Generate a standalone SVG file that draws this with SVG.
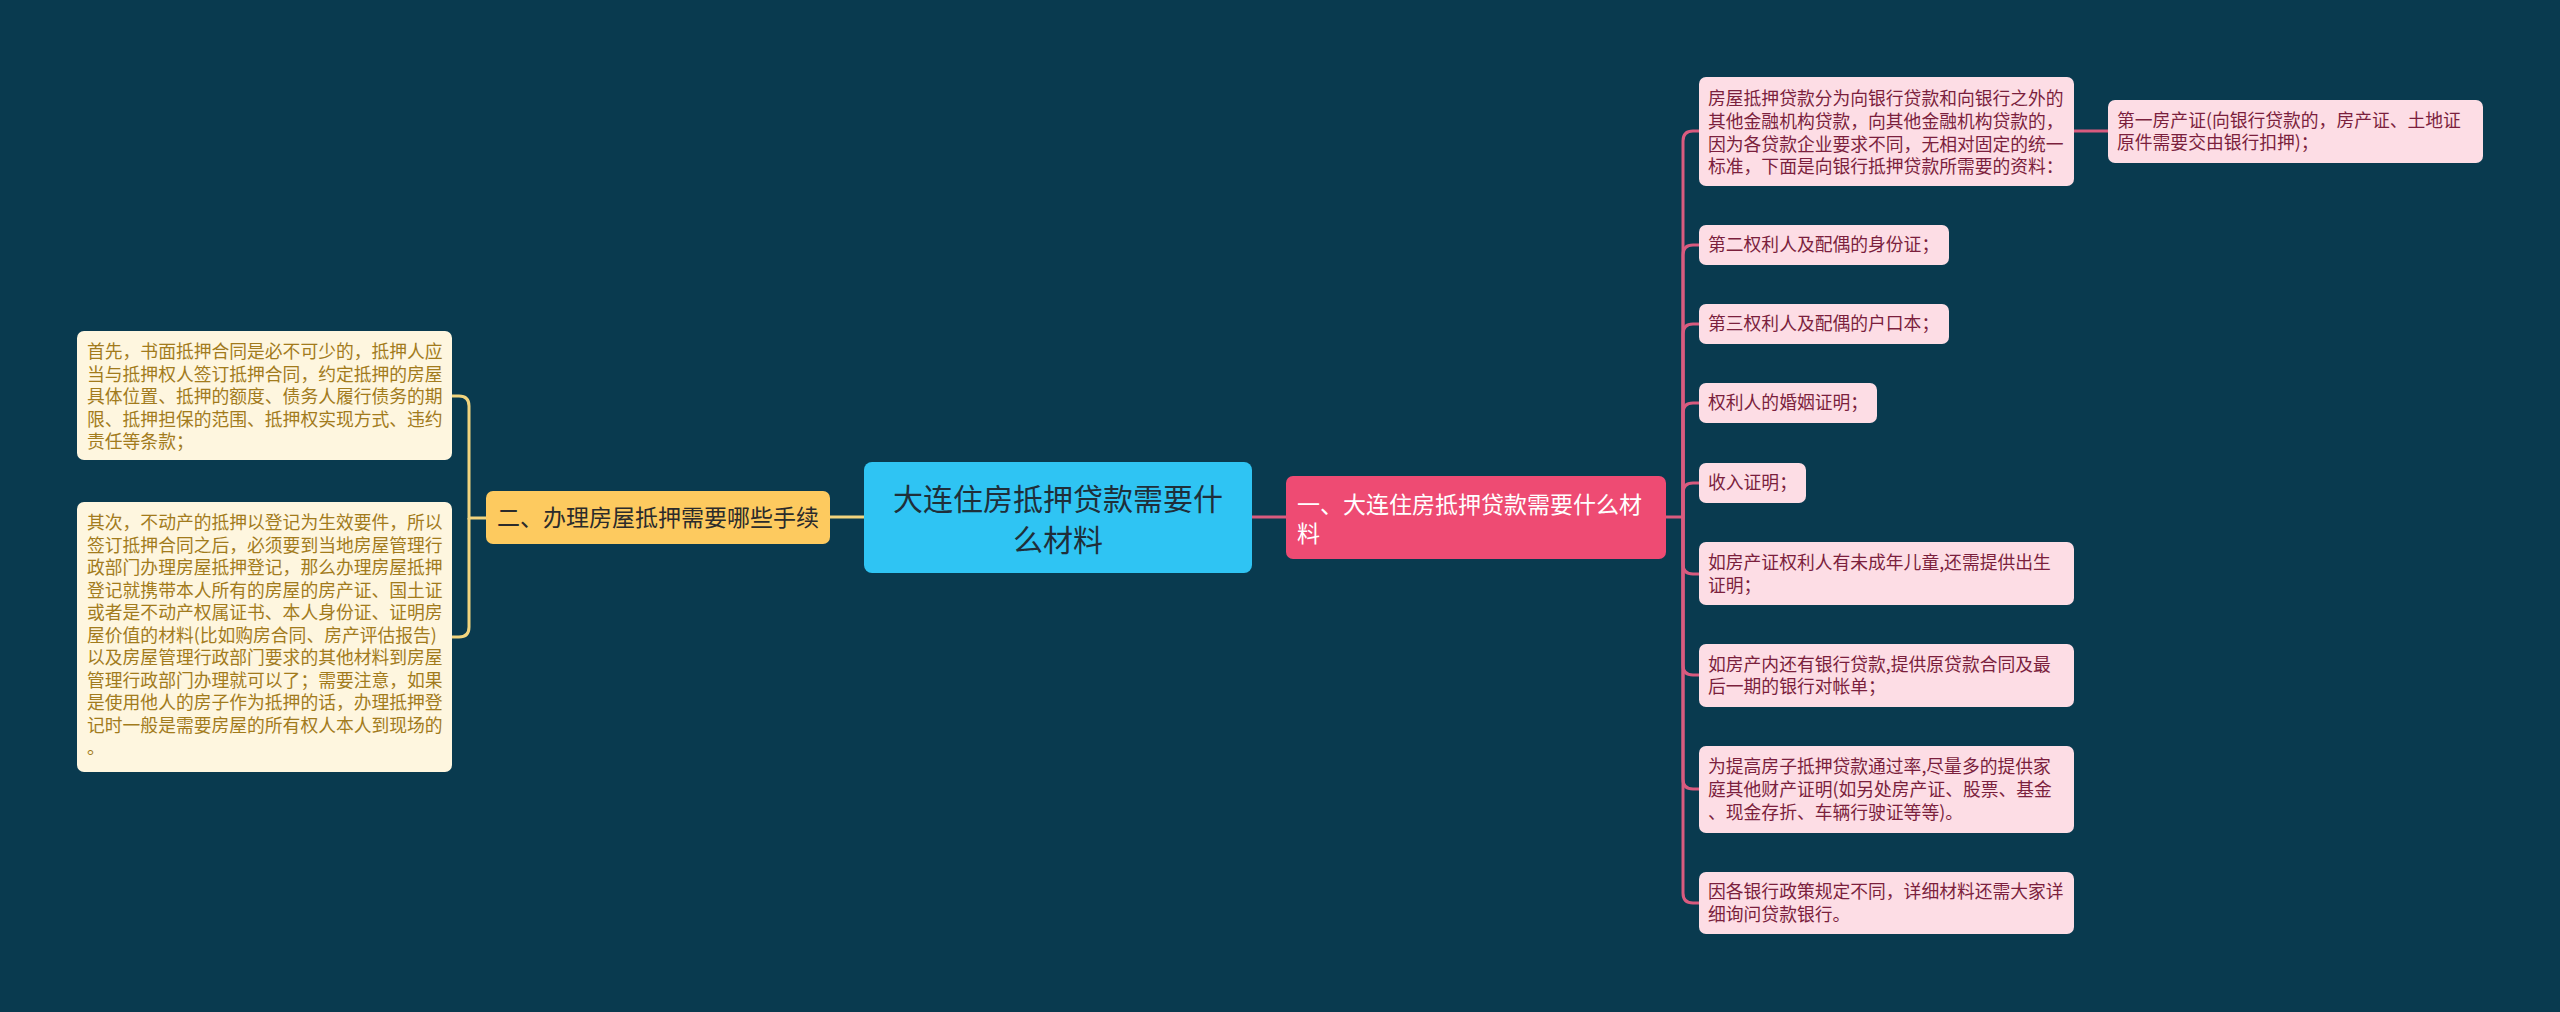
<svg xmlns="http://www.w3.org/2000/svg" width="2560" height="1012" viewBox="0 0 2560 1012">
<style>
text{font-family:"Noto Sans CJK SC","Noto Sans",sans-serif;}
.leaf rect{fill:#fddde5;}
.leaf text{fill:#7b1f3d;font-size:17.8px;}
.cream rect{fill:#fef6df;}
.cream text{fill:#a27b1c;font-size:17.8px;}
.pk{fill:none;stroke:#d95b7f;stroke-width:3;}
.yl{fill:none;stroke:#f2d47e;stroke-width:3;}
</style>
<rect width="2560" height="1012" fill="#093a4f"/>
<g id="connectors">
<path class="yl" d="M864 517H830"/>
<path class="yl" d="M486 518H469V406Q469 396 459 396H452"/>
<path class="yl" d="M469 518V627Q469 637 459 637H452"/>
<path class="pk" d="M1252 517H1286"/>
<path class="pk" d="M1666 517H1683V141Q1683 131 1693 131H1699"/>
<path class="pk" d="M1683 517V255Q1683 245 1693 245H1699"/>
<path class="pk" d="M1683 517V334Q1683 324 1693 324H1699"/>
<path class="pk" d="M1683 517V413Q1683 403 1693 403H1699"/>
<path class="pk" d="M1683 517V493Q1683 483 1693 483H1699"/>
<path class="pk" d="M1683 517V564Q1683 574 1693 574H1699"/>
<path class="pk" d="M1683 517V665Q1683 675 1693 675H1699"/>
<path class="pk" d="M1683 517V779Q1683 789 1693 789H1699"/>
<path class="pk" d="M1683 517V893Q1683 903 1693 903H1699"/>
<path class="pk" d="M2074 131H2108"/>
</g>
<g id="center">
<rect x="864" y="462" width="388" height="111" rx="8" fill="#2fc4f3"/>
<text x="1058" y="509.8" font-size="30" fill="#1f2f3a" text-anchor="middle">大连住房抵押贷款需要什<tspan x="1058" dy="41">么材料</tspan></text>
</g>
<g id="branch2">
<rect x="486" y="491" width="344" height="53" rx="7" fill="#fdca5f"/>
<text x="497" y="526.3" font-size="23" fill="#2b2b2b">二、办理房屋抵押需要哪些手续</text>
</g>
<g id="left1" class="cream">
<rect x="77" y="331" width="375" height="129" rx="7"/>
<text x="87" y="358.4">首先，书面抵押合同是必不可少的，抵押人应<tspan x="87" dy="22.5">当与抵押权人签订抵押合同，约定抵押的房屋</tspan><tspan x="87" dy="22.5">具体位置、抵押的额度、债务人履行债务的期</tspan><tspan x="87" dy="22.5">限、抵押担保的范围、抵押权实现方式、违约</tspan><tspan x="87" dy="22.5">责任等条款；</tspan></text>
</g>
<g id="left2" class="cream">
<rect x="77" y="502" width="375" height="270" rx="7"/>
<text x="87" y="529.4">其次，不动产的抵押以登记为生效要件，所以<tspan x="87" dy="22.5">签订抵押合同之后，必须要到当地房屋管理行</tspan><tspan x="87" dy="22.5">政部门办理房屋抵押登记，那么办理房屋抵押</tspan><tspan x="87" dy="22.5">登记就携带本人所有的房屋的房产证、国土证</tspan><tspan x="87" dy="22.5">或者是不动产权属证书、本人身份证、证明房</tspan><tspan x="87" dy="22.5">屋价值的材料(比如购房合同、房产评估报告)</tspan><tspan x="87" dy="22.5">以及房屋管理行政部门要求的其他材料到房屋</tspan><tspan x="87" dy="22.5">管理行政部门办理就可以了；需要注意，如果</tspan><tspan x="87" dy="22.5">是使用他人的房子作为抵押的话，办理抵押登</tspan><tspan x="87" dy="22.5">记时一般是需要房屋的所有权人本人到现场的</tspan><tspan x="87" dy="22.5">。</tspan></text>
</g>
<g id="branch1">
<rect x="1286" y="476" width="380" height="83" rx="7" fill="#ee4b73"/>
<text x="1297" y="512.8" font-size="23" fill="#ffffff">一、大连住房抵押贷款需要什么材<tspan x="1297" dy="29">料</tspan></text>
</g>
<g id="leaf1" class="leaf">
<rect x="1699" y="77" width="375" height="109" rx="7"/>
<text x="1708" y="105.4">房屋抵押贷款分为向银行贷款和向银行之外的<tspan x="1708" dy="22.6">其他金融机构贷款，向其他金融机构贷款的，</tspan><tspan x="1708" dy="22.6">因为各贷款企业要求不同，无相对固定的统一</tspan><tspan x="1708" dy="22.6">标准，下面是向银行抵押贷款所需要的资料：</tspan></text>
</g>
<g id="leaf1a" class="leaf">
<rect x="2108" y="100" width="375" height="63" rx="7"/>
<text x="2117" y="126.6">第一房产证(向银行贷款的，房产证、土地证<tspan x="2117" dy="22.6">原件需要交由银行扣押)；</tspan></text>
</g>
<g id="leaf2" class="leaf">
<rect x="1699" y="225" width="250" height="40" rx="7"/>
<text x="1708" y="251.4">第二权利人及配偶的身份证；</text>
</g>
<g id="leaf3" class="leaf">
<rect x="1699" y="304" width="250" height="40" rx="7"/>
<text x="1708" y="330.4">第三权利人及配偶的户口本；</text>
</g>
<g id="leaf4" class="leaf">
<rect x="1699" y="383" width="178" height="40" rx="7"/>
<text x="1708" y="409.4">权利人的婚姻证明；</text>
</g>
<g id="leaf5" class="leaf">
<rect x="1699" y="463" width="107" height="40" rx="7"/>
<text x="1708" y="489.4">收入证明；</text>
</g>
<g id="leaf6" class="leaf">
<rect x="1699" y="542" width="375" height="63" rx="7"/>
<text x="1708" y="568.9">如房产证权利人有未成年儿童,还需提供出生<tspan x="1708" dy="22.6">证明；</tspan></text>
</g>
<g id="leaf7" class="leaf">
<rect x="1699" y="644" width="375" height="63" rx="7"/>
<text x="1708" y="670.6">如房产内还有银行贷款,提供原贷款合同及最<tspan x="1708" dy="22.6">后一期的银行对帐单；</tspan></text>
</g>
<g id="leaf8" class="leaf">
<rect x="1699" y="746" width="375" height="87" rx="7"/>
<text x="1708" y="773.4">为提高房子抵押贷款通过率,尽量多的提供家<tspan x="1708" dy="22.6">庭其他财产证明(如另处房产证、股票、基金</tspan><tspan x="1708" dy="22.6">、现金存折、车辆行驶证等等)。</tspan></text>
</g>
<g id="leaf9" class="leaf">
<rect x="1699" y="872" width="375" height="62" rx="7"/>
<text x="1708" y="898">因各银行政策规定不同，详细材料还需大家详<tspan x="1708" dy="22.6">细询问贷款银行。</tspan></text>
</g>
</svg>
